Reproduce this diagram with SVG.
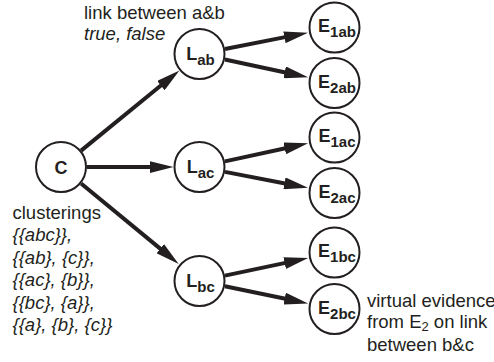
<svg xmlns="http://www.w3.org/2000/svg" width="494" height="362" viewBox="0 0 494 362">
<style>
  .node circle { fill: #fff; stroke: #231f20; stroke-width: 2; }
  .lbl { font-family: "Liberation Sans", Arial, sans-serif; font-weight: bold; font-size: 18px; fill: #231f20; text-anchor: middle; }
  .sub { font-size: 15px; }
  .txt { font-family: "Liberation Sans", Arial, sans-serif; font-size: 18.5px; fill: #231f20; }
  .it { font-style: italic; }
  #connectors line { stroke: #231f20; stroke-width: 4; marker-end: url(#ah); }
</style>
<defs>
  <marker id="ah" markerUnits="userSpaceOnUse" viewBox="0 0 24 12" markerWidth="24" markerHeight="12" refX="2" refY="6" orient="auto">
    <path d="M0,0 L24,6 L0,12 Z" fill="#231f20"/>
  </marker>
</defs>
<rect width="494" height="362" fill="#fff"/>
<g id="connectors">
  <line x1="81.1" y1="150.6" x2="162.4" y2="84.3"/>
  <line x1="87" y1="167" x2="151.5" y2="167"/>
  <line x1="81.1" y1="183.5" x2="161.7" y2="249.9"/>
  <line x1="225.0" y1="49.0" x2="286.4" y2="36.9"/>
  <line x1="224.9" y1="59.5" x2="286.6" y2="72.7"/>
  <line x1="224.9" y1="161.4" x2="286.6" y2="148.0"/>
  <line x1="225.0" y1="171.9" x2="286.4" y2="183.7"/>
  <line x1="224.9" y1="275.6" x2="286.6" y2="262.6"/>
  <line x1="224.9" y1="286.3" x2="286.6" y2="299.0"/>
</g>
<g id="C" class="node">
  <circle cx="61" cy="167" r="25"/>
  <text class="lbl" x="61" y="173.5">C</text>
</g>
<g id="Lab" class="node">
  <circle cx="199.5" cy="54" r="25"/>
  <text class="lbl" x="200.5" y="59.5">L<tspan class="sub" dy="5.5">ab</tspan></text>
</g>
<g id="Lac" class="node">
  <circle cx="199.5" cy="167" r="25"/>
  <text class="lbl" x="200.5" y="172.5">L<tspan class="sub" dy="5.5">ac</tspan></text>
</g>
<g id="Lbc" class="node">
  <circle cx="199.5" cy="281" r="25"/>
  <text class="lbl" x="200.5" y="286.5">L<tspan class="sub" dy="5.5">bc</tspan></text>
</g>
<g id="E1ab" class="node">
  <circle cx="334.5" cy="27.5" r="25"/>
  <text class="lbl" x="337" y="32">E<tspan class="sub" dy="5">1ab</tspan></text>
</g>
<g id="E2ab" class="node">
  <circle cx="334.5" cy="83" r="25"/>
  <text class="lbl" x="337" y="87.5">E<tspan class="sub" dy="5">2ab</tspan></text>
</g>
<g id="E1ac" class="node">
  <circle cx="334.5" cy="137.5" r="25"/>
  <text class="lbl" x="337" y="142">E<tspan class="sub" dy="5">1ac</tspan></text>
</g>
<g id="E2ac" class="node">
  <circle cx="334.5" cy="193" r="25"/>
  <text class="lbl" x="337" y="197.5">E<tspan class="sub" dy="5">2ac</tspan></text>
</g>
<g id="E1bc" class="node">
  <circle cx="334.5" cy="252.5" r="25"/>
  <text class="lbl" x="337" y="257">E<tspan class="sub" dy="5">1bc</tspan></text>
</g>
<g id="E2bc" class="node">
  <circle cx="334.5" cy="309" r="25"/>
  <text class="lbl" x="337" y="313.5">E<tspan class="sub" dy="5">2bc</tspan></text>
</g>
<g id="annotations">
  <text class="txt" x="84" y="18.5">link between a&amp;b</text>
  <text class="txt it" x="84" y="39.5">true, false</text>
  <text class="txt" x="12.5" y="218.5">clusterings</text>
  <text class="txt it" x="12.5" y="241">{{abc}},</text>
  <text class="txt it" x="12.5" y="263.5">{{ab}, {c}},</text>
  <text class="txt it" x="12.5" y="286">{{ac}, {b}},</text>
  <text class="txt it" x="12.5" y="308.5">{{bc}, {a}},</text>
  <text class="txt it" x="12.5" y="331">{{a}, {b}, {c}}</text>
  <text class="txt" x="367" y="307">virtual evidence</text>
  <text class="txt" x="367" y="328">from E<tspan font-size="13" dy="3">2</tspan><tspan dy="-3"> on link</tspan></text>
  <text class="txt" x="367" y="350.5">between b&amp;c</text>
</g>
</svg>
